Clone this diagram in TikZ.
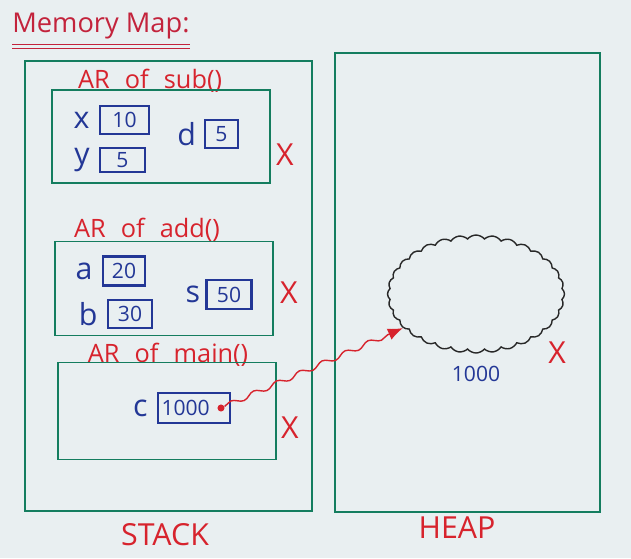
\documentclass[tikz,border=0pt]{standalone}
\usepackage{fontspec}
\setmainfont{Open Sans}
\usepackage{tikz}
\usetikzlibrary{shapes,arrows.meta,positioning,decorations.pathmorphing}
\definecolor{paper}{RGB}{233,239,241}
\definecolor{stackgreen}{RGB}{20,125,95}
\definecolor{inkblue}{RGB}{35,55,150}
\definecolor{penred}{RGB}{215,35,45}
\definecolor{titlered}{RGB}{195,35,60}
\definecolor{cloudink}{RGB}{40,40,40}
\tikzset{
    region/.style={draw=stackgreen, line width=1.1pt,
                   minimum width=#1, inner sep=0pt},
    arbox/.style={draw=stackgreen, line width=1.1pt,
                  minimum width=4.36cm, minimum height=#1, inner sep=0pt},
    valbox/.style={draw=inkblue, line width=1.2pt, minimum width=#1,
                   minimum height=0.56cm, inner sep=0pt,
                   font=\large, text=inkblue},
    varname/.style={font=\LARGE, text=inkblue, inner sep=0pt},
    arlabel/.style={font={\Large\spaceskip=0.6em\relax}, text=penred, inner sep=0pt},
    cross/.style={font=\LARGE, text=penred, inner sep=0pt},
    areaname/.style={font=\LARGE, text=penred, inner sep=0pt},
}

\begin{document}
\begin{tikzpicture}[
    x=0.02cm, y=-0.02cm,
    ptr/.style={-{Latex[length=3mm,width=2.4mm]}, penred, thick,
                decorate, decoration={snake, amplitude=0.5mm,
                segment length=5mm, post length=3mm}},
    dot/.style={circle, fill=penred, inner sep=0pt, minimum size=4pt}
]
    \fill[paper] (0,0) rectangle (631,558);
    \useasboundingbox (0,0) rectangle (631,558);

    \node[font=\fontsize{15.5}{18}\selectfont, text=titlered, anchor=west, inner sep=0pt] (title) at (12,26) {Memory Map:};
    \draw[titlered] ([yshift=-3pt]title.south west) -- ([yshift=-3pt]title.south east);
    \draw[titlered] ([yshift=-5pt]title.south west) -- ([yshift=-5pt]title.south east);

    \node[region=5.74cm, minimum height=9cm] (stack) at (168.5,286) {};
    \node[region=5.3cm, minimum height=9.18cm] (heap) at (467.5,282.5) {};
    \node[areaname] at (165,535) {STACK};
    \node[areaname] at (457,528) {HEAP};

    \node[arlabel] at (150,81) {AR of sub()};
    \node[arbox=1.86cm] (sub) at (161,136.5) {};
    \node[valbox=0.98cm] (xval) at (124.5,120) {10};
    \node[varname, left=0.18cm of xval] (xname) {x};
    \node[valbox=0.9cm, minimum height=0.48cm] (yval) at (122.5,160) {5};
    \node[varname, left=0.18cm of yval] (yname) {y};
    \node[valbox=0.66cm] (dval) at (221.5,134) {5};
    \node[varname, left=0.15cm of dval] (dname) {d};
    \node[cross] (subx) at (285,155) {X};

    \node[arlabel] at (147,230) {AR of add()};
    \node[arbox=1.88cm] (add) at (164,288.5) {};
    \node[valbox=0.84cm, minimum height=0.58cm] (aval) at (124,271) {20};
    \node[varname, left=0.18cm of aval] (aname) {a};
    \node[valbox=0.88cm] (bval) at (130,314) {30};
    \node[varname, left=0.18cm of bval] (bname) {b};
    \node[valbox=0.9cm, minimum height=0.58cm] (sval) at (229,294.5) {50};
    \node[varname, left=0.1cm of sval] (sname) {s};
    \node[cross] (addx) at (289,293) {X};

    \node[arlabel] at (168,355) {AR of main()};
    \node[arbox=1.94cm] (main) at (167,411) {};
    \node[valbox=1.44cm, minimum height=0.6cm, text width=1.3cm] (cval) at (194,408) {1000};
    \node[varname, left=0.18cm of cval] (cname) {c};
    \node[dot] (cdot) at (221,408) {};
    \node[cross] (mainx) at (290,428) {X};

    \node[cloud, cloud puffs=32, cloud puff arc=100, aspect=1.5,
          draw=cloudink, thick, minimum width=3.54cm,
          minimum height=2.36cm] (heapobj) at (476,294) {};
    \node[font=\large, text=inkblue, below=0.12cm of heapobj] (heapaddr) {1000};
    \node[cross] (heapx) at (557,353) {X};

    \draw[ptr] (cdot) -- (heapobj.205);
\end{tikzpicture}
\end{document}
